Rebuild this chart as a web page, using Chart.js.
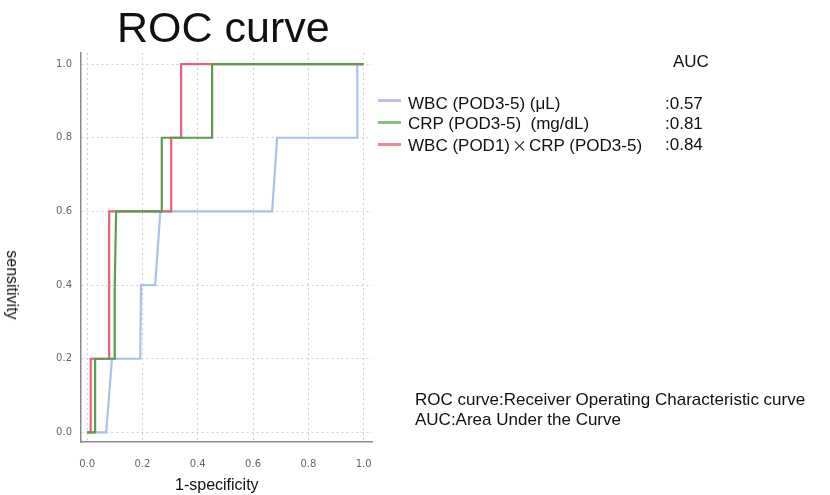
<!DOCTYPE html>
<html>
<head>
<meta charset="utf-8">
<script src="https://cdn.jsdelivr.net/npm/chart.js@4"></script>
<style>
  body { margin: 0; background: #fff; }
  #wrap { position: relative; width: 830px; height: 495px; font-family: "Liberation Sans", Arial, sans-serif; color: #111; }
  #wrap canvas { position: absolute; left: 0; top: 0; }
  .t { position: absolute; white-space: nowrap; font-size: 17px; line-height: 20px; }
  .sw { position: absolute; width: 23px; height: 3px; }
  .x { font-family: "Noto Sans CJK JP", sans-serif; font-size: 15px; padding: 0 2px; }
</style>
</head>
<body>
<div id="wrap">
  <canvas id="chart" width="830" height="495"></canvas>
  <div class="t" style="left:117px; top:4px; font-size:43px; line-height:46px;">ROC curve</div>
  <div class="t" style="left:12px; top:285px; font-size:16px; transform: translate(-50%,-50%) rotate(90deg); transform-origin:center;">sensitivity</div>
  <div class="t" style="left:175px; top:475px; font-size:16px;">1-specificity</div>
  <div class="t" style="left:673px; top:52px;">AUC</div>
  <div id="legend"></div>
  <div class="t" style="left:415px; top:390px;">ROC curve:Receiver Operating Characteristic curve</div>
  <div class="t" style="left:415px; top:410px;">AUC:Area Under the Curve</div>
</div>
<script>
// series labels and AUC values
const seriesNames = ["WBC (POD3-5) (μL)", "CRP (POD3-5)\u00a0\u00a0(mg/dL)", "WBC (POD1)<span class=\"x\">\u00d7</span>CRP (POD3-5)"];
const aucValues = [":0.57", ":0.81", ":0.84"];
const colors = ["#a8c2ea", "#5e9b50", "#e8607a"];
const swatchColors = ["#c0c0e4", "#8cbf7c", "#ee8898"];

// points (1-specificity, sensitivity)
const wbcFpr = [0, 0.069, 0.09, 0.192, 0.195, 0.246, 0.265, 0.669, 0.687, 0.977, 0.977, 1.0];
const wbcTpr = [0, 0, 0.2, 0.2, 0.4, 0.4, 0.6, 0.6, 0.8, 0.8, 1.0, 1.0];
const crpFpr = [0, 0.029, 0.029, 0.10, 0.10, 0.105, 0.27, 0.27, 0.452, 0.452, 1.0];
const crpTpr = [0, 0, 0.2, 0.2, 0.4, 0.6, 0.6, 0.8, 0.8, 1.0, 1.0];
const comboFpr = [0, 0.013, 0.013, 0.08, 0.08, 0.304, 0.304, 0.34, 0.34, 1.0];
const comboTpr = [0, 0, 0.2, 0.2, 0.6, 0.6, 0.8, 0.8, 1.0, 1.0];

const tickValues = [0, 0.2, 0.4, 0.6, 0.8, 1.0];

function pts(xs, ys) {
  return xs.map((x, i) => ({ x: x, y: ys[i] }));
}

// legend on the right, html text
const legendDiv = document.getElementById("legend");
const rowTop = [94, 114, 135];
const swTop = [99, 121, 143];
seriesNames.forEach((name, i) => {
  legendDiv.innerHTML += `<div class="sw" style="left:378px; top:${swTop[i]}px; background:${swatchColors[i]}"></div>
    <div class="t" style="left:408px; top:${rowTop[i]}px;">${name}</div>
    <div class="t" style="left:665px; top:${rowTop[i]}px;">${aucValues[i]}</div>`;
});

const fixTicks = axis => { axis.ticks = tickValues.map(v => ({ value: v })); };

const ctx = document.getElementById("chart").getContext("2d");
new Chart(ctx, {
  type: 'line',
  data: {
    datasets: [
      { label: seriesNames[0], data: pts(wbcFpr, wbcTpr), borderColor: colors[0], order: 3 },
      { label: seriesNames[1], data: pts(crpFpr, crpTpr), borderColor: colors[1], order: 1 },
      { label: seriesNames[2], data: pts(comboFpr, comboTpr), borderColor: colors[2], order: 2 }
    ]
  },
  options: {
    responsive: false,
    animation: false,
    elements: {
      point: { radius: 0 },
      line: { borderWidth: 2.2, tension: 0, fill: false }
    },
    layout: { padding: { left: 0, top: 53, right: 458, bottom: 0 } },
    plugins: { legend: { display: false }, tooltip: { enabled: false } },
    scales: {
      x: {
        type: 'linear',
        min: -0.022,
        max: 1.03,
        afterBuildTicks: fixTicks,
        afterFit: s => { s.height = 53; },
        border: { color: '#8a8a8a', width: 1.5, dash: [2, 3] },
        grid: { color: '#cfcfcf', drawTicks: false },
        ticks: { padding: 16, color: '#666', font: { family: 'DejaVu Sans', size: 10 },
                 callback: v => v.toFixed(1) }
      },
      y: {
        type: 'linear',
        min: -0.026,
        max: 1.03,
        afterBuildTicks: fixTicks,
        afterFit: s => { s.width = 81; },
        border: { color: '#8a8a8a', width: 1.5, dash: [2, 3] },
        grid: { color: '#cfcfcf', drawTicks: false },
        ticks: { padding: 9, color: '#666', font: { family: 'DejaVu Sans', size: 10 },
                 callback: v => v.toFixed(1) }
      }
    }
  }
});
</script>
</body>
</html>
